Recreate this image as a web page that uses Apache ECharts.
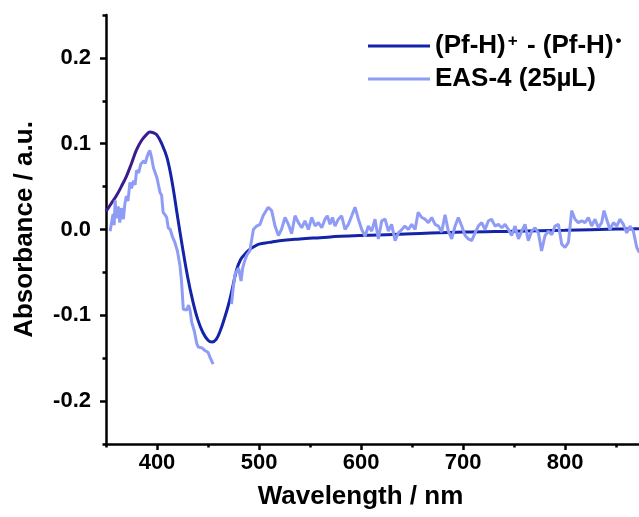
<!DOCTYPE html>
<html>
<head>
<meta charset="utf-8">
<script src="https://cdn.jsdelivr.net/npm/echarts@6/dist/echarts.min.js"></script>
<style>html,body{margin:0;padding:0;background:#fff}#c{width:639px;height:517px}</style>
</head>
<body>
<div id="c"></div>
<script>
// Data
const seriesNames = ['(Pf-H)+ - (Pf-H)•', 'EAS-4 (25µL)'];
const xTickLabels = [400, 500, 600, 700, 800];
const xMinorTicks = [350, 450, 550, 650, 750, 850];
const yTickLabels = [-0.2, -0.1, 0, 0.1, 0.2];
const yMinorTicks = [-0.25, -0.15, -0.05, 0.05, 0.15, 0.25];

const diffX = [350,355,360,365,370,375,380,385,390,393,396,400,405,410,415,420,425,430,435,440,445,450,454,458,462,466,470,474,478,482,486,490,495,500,510,520,540,560,580,600,650,700,750,800,850,873];
const diffY = [0.021,0.030,0.039,0.050,0.062,0.077,0.093,0.104,0.111,0.1136,0.113,0.110,0.099,0.083,0.054,0.016,-0.021,-0.055,-0.083,-0.105,-0.120,-0.129,-0.131,-0.128,-0.118,-0.104,-0.088,-0.068,-0.047,-0.035,-0.029,-0.024,-0.020,-0.017,-0.015,-0.013,-0.011,-0.0095,-0.008,-0.007,-0.005,-0.003,-0.002,-0.001,0.0005,0.001];

const easX = [354,356,357,358,359,360,362,363.5,365,367,368.5,370,371.5,373.5,375,377,378.5,380,382,384,385.5,387,388.5,390,391.5,393,395,396.5,398,400,401.5,403,404.5,406,408,409.5,411,413,415,417.5,420,422.5,424,425.8,427,429,431,432.5,434,436.5,439,440.5,442,444,447,450,452,455,
464,
473,474.5,476.5,478,480,482.4,484,485.6,488,491,494.5,497.7,501,504,509,512.4,515.7,519,522,525.5,528.8,532,535.3,538.6,541.9,545,548.4,551.7,555,558.2,561.5,564.7,567,569.6,572,574.5,577.8,581,584.3,587.6,590.9,594.1,597.4,600.7,604,607.2,610.5,613.7,617,620.3,623.6,626.8,630,633.4,636.6,640,643,646.4,649.7,653,656,659.5,662.8,666,669.3,672.6,675.8,679,682.4,685.6,688.9,692.2,695.4,698.7,702,705.2,708.5,711.8,715,718.3,721.6,724.8,728,731.4,734.6,738,741.2,744.5,747.7,751,754.3,757.5,760.8,764,767.3,770.6,773.9,777,780.4,783.7,787,790.2,793.5,796.7,800,803.3,806.5,809.8,813,816.3,819.6,822.9,826.1,829.4,832.7,835.9,838.2,840.8,844,847.4,850.7,853.9,857.2,860.5,863.7,867,870.3,872.9];
const easY = [-0.002,0.012,0.018,0.005,0.034,0.013,0.027,0.008,0.025,0.012,0.030,0.039,0.033,0.055,0.048,0.057,0.052,0.069,0.066,0.076,0.074,0.080,0.077,0.084,0.089,0.092,0.082,0.072,0.070,0.060,0.060,0.043,0.040,0.020,0.017,0.014,0.002,0.000,-0.008,-0.015,-0.025,-0.042,-0.060,-0.093,-0.092,-0.094,-0.088,-0.095,-0.108,-0.118,-0.133,-0.137,-0.139,-0.138,-0.141,-0.143,-0.149,-0.157,
null,
-0.087,-0.070,-0.052,-0.050,-0.045,-0.060,-0.045,-0.038,-0.030,-0.025,0.000,0.004,0.006,0.016,0.026,0.022,0.004,-0.007,0.000,0.014,0.006,-0.005,0.016,0.008,0.002,0.010,0.000,0.014,0.004,0.008,0.002,0.012,0.016,0.006,0.014,0.004,0.012,0.016,0.000,0.006,0.016,0.026,0.012,0.000,-0.008,0.004,-0.002,0.012,-0.011,0.010,0.012,-0.002,0.006,-0.013,-0.004,0.000,0.004,0.000,0.006,0.000,0.020,0.014,0.012,0.008,0.014,0.006,0.004,-0.003,0.017,-0.002,-0.011,0.004,0.014,0.004,-0.007,-0.011,-0.013,-0.004,0.004,0.008,0.000,0.010,0.012,0.004,0.006,0.002,0.006,0.000,-0.007,0.004,-0.011,-0.002,0.006,-0.013,-0.002,0.002,-0.004,-0.025,-0.007,-0.002,-0.006,0.004,0.006,-0.017,-0.021,-0.015,0.022,0.012,0.008,0.010,0.008,0.014,0.004,0.012,0.002,0.008,0.022,0.012,0.000,0.008,0.004,0.012,0.006,-0.004,0.004,-0.002,-0.021,-0.027];

const FONT = 'Liberation Sans, Arial, sans-serif';
const diffData = diffX.map((x, i) => [x, diffY[i]]);
const easData = easX.map((x, i) => [x, easY[i]]);

const chart = echarts.init(document.getElementById('c'), null, {renderer: 'canvas'});
const axisLine = {show: true, onZero: false, lineStyle: {color: '#000', width: 2.5}};
chart.setOption({
  animation: false,
  grid: {left: 106, top: 15, right: 0, bottom: 73, containLabel: false},
  xAxis: [{
    type: 'value', min: 350, max: 872.5,
    name: 'Wavelength / nm', nameLocation: 'middle', nameGap: 40,
    nameTextStyle: {fontFamily: FONT, fontWeight: 'bold', fontSize: 26, color: '#000', padding: [0, 24, 0, 0]},
    axisLine: axisLine,
    axisTick: {show: true, length: 6, lineStyle: {width: 2.5, color: '#000'}, customValues: xTickLabels},
    axisLabel: {fontFamily: FONT, fontWeight: 'bold', fontSize: 22, color: '#000', margin: 8, customValues: xTickLabels},
    splitLine: {show: false}
  }, {
    type: 'value', min: 350, max: 872.5, position: 'bottom',
    axisLine: {show: false, onZero: false},
    axisTick: {show: true, length: 3.5, lineStyle: {width: 2.5, color: '#000'}, customValues: xMinorTicks},
    axisLabel: {show: false},
    splitLine: {show: false}
  }],
  yAxis: [{
    type: 'value', min: -0.25, max: 0.25,
    name: 'Absorbance / a.u.', nameLocation: 'middle', nameGap: 68,
    nameTextStyle: {fontFamily: FONT, fontWeight: 'bold', fontSize: 26, color: '#000'},
    axisLine: axisLine,
    axisTick: {show: true, length: 6, lineStyle: {width: 2.5, color: '#000'}, customValues: yTickLabels},
    axisLabel: {fontFamily: FONT, fontWeight: 'bold', fontSize: 22, color: '#000', margin: 15, customValues: yTickLabels,
      formatter: v => v.toFixed(1)},
    splitLine: {show: false}
  }, {
    type: 'value', min: -0.25, max: 0.25, position: 'left',
    axisLine: {show: false, onZero: false},
    axisTick: {show: true, length: 3.5, lineStyle: {width: 2.5, color: '#000'}, customValues: yMinorTicks},
    axisLabel: {show: false},
    splitLine: {show: false}
  }],
  legend: {
    orient: 'vertical', left: 368, top: 33, itemGap: 7, padding: 0,
    itemWidth: 62, itemHeight: 3,
    data: [{name: seriesNames[0], icon: 'rect'}, {name: seriesNames[1], icon: 'rect'}],
    formatter: function (name) {
      if (name === seriesNames[0]) return '{a|(Pf-H)}{s|+}{a| - (Pf-H)}{s|•}';
      return '{a|' + name + '}';
    },
    textStyle: {
      fontFamily: FONT, fontWeight: 'bold', fontSize: 26, color: '#000',
      rich: {
        a: {fontFamily: FONT, fontWeight: 'bold', fontSize: 26, lineHeight: 26, color: '#000'},
        s: {fontFamily: FONT, fontWeight: 'bold', fontSize: 17, lineHeight: 15, color: '#000', verticalAlign: 'top', padding: [0, 2, 0, 2]}
      }
    }
  },
  series: [{
    name: seriesNames[0], type: 'line', data: diffData, smooth: 0.4, showSymbol: false,
    xAxisIndex: 0, yAxisIndex: 0, clip: true,
    lineStyle: {width: 3, color: new echarts.graphic.LinearGradient(0, 0, 1, 0, [
      {offset: 0, color: '#3a1c8e'}, {offset: 0.08, color: '#3a1c8e'}, {offset: 0.12, color: '#1424a8'}, {offset: 1, color: '#1424a8'}])},
    itemStyle: {color: '#1424a8'}, z: 2
  }, {
    name: seriesNames[1], type: 'line', data: easData, smooth: false, showSymbol: false, connectNulls: false,
    xAxisIndex: 0, yAxisIndex: 0, clip: true,
    lineStyle: {width: 3, color: '#8e9cf6'},
    itemStyle: {color: '#8e9cf6'}, z: 3
  }]
});
</script>
</body>
</html>
